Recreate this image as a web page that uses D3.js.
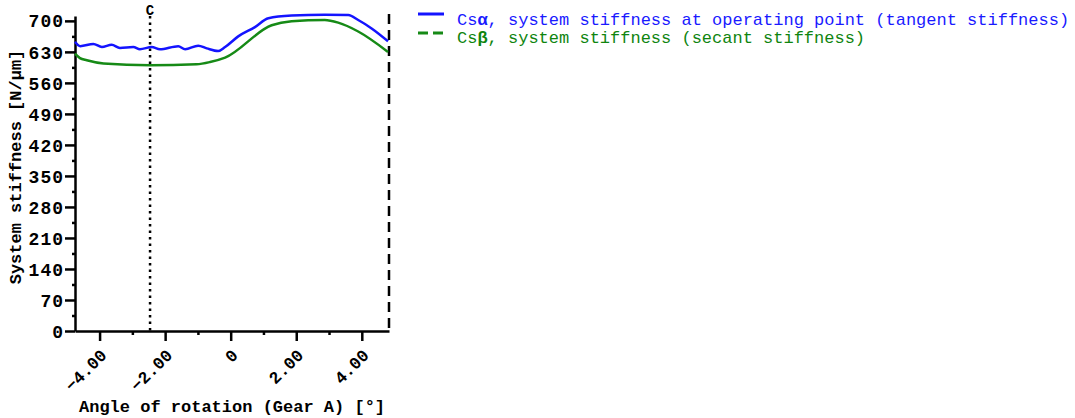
<html>
<head>
  <meta charset='utf-8' />
  <style>
    text { font-family: 'Liberation Mono', 'Courier New', monospace; }
  </style>
</head>
<body style='padding: 0; margin: 0; background: white;'>
  <svg width='1075' height='418'></svg>
</body>
<script src="https://d3js.org/d3.v7.min.js"></script>
<script>
///////////////////
/// Data
///////////////////

  xTicks = [-4, -2, 0, 2, 4];
  xMinorTicks = [-3, -1, 1, 3];
  yTicks = [0, 70, 140, 210, 280, 350, 420, 490, 560, 630, 700];
  yMinorTicks = [35, 105, 175, 245, 315, 385, 455, 525, 595, 665];

  angleA = [-4.75, -4.59, -4.19, -3.93, -3.63, -3.38, -2.97, -2.77, -2.41, -2.16, -1.60, -1.39, -0.99, -0.73, -0.38, -0.17, 0.23, 0.74, 1.15, 1.86, 2.87, 3.59, 3.89, 4.30, 4.80];
  csAlpha = [653, 643, 648, 641, 646, 639, 641, 636, 641, 636, 643, 636, 644, 638, 632, 641, 665, 686, 706, 712, 714, 713, 702, 683, 654];

  angleB = [-4.75, -4.6, -4.39, -3.88, -2.46, -1.04, -0.63, -0.17, 1.25, 1.86, 2.87, 3.28, 3.89, 4.80];
  csBeta = [626, 616, 611, 604, 600, 602, 607, 617, 690, 699, 702, 696, 676, 630];

  markC = -2.46;
  markEnd = 4.83;

///////////////////
/// Scales
///////////////////

  svg = d3.select('svg');

  scaleX = d3.scaleLinear()
    .domain([-4.75, 4.83])
    .range([75, 389]);

  scaleY = d3.scaleLinear()
    .domain([0, 711])
    .range([331, 16]);

///////////////////
/// Axes
///////////////////

  fmtX = d => d === 0 ? '0' : d3.format('.2f')(d);

  xAxis = svg.append('g')
    .attr('transform', 'translate(0, 331)')
    .call(d3.axisBottom(scaleX).tickValues(xTicks).tickSize(10).tickSizeOuter(0).tickFormat(fmtX));

  svg.append('g')
    .attr('transform', 'translate(0, 331)')
    .call(d3.axisBottom(scaleX).tickValues(xMinorTicks).tickSize(4).tickSizeOuter(0).tickFormat(''))
    .select('.domain').remove();

  yAxis = svg.append('g')
    .attr('transform', 'translate(75, 0)')
    .call(d3.axisLeft(scaleY).tickValues(yTicks).tickSize(10).tickSizeOuter(0));

  svg.append('g')
    .attr('transform', 'translate(75, 0)')
    .call(d3.axisLeft(scaleY).tickValues(yMinorTicks).tickSize(3).tickSizeOuter(0).tickFormat(''))
    .select('.domain').remove();

  svg.selectAll('.tick line, .domain')
    .attr('stroke', 'black')
    .attr('stroke-width', 2.5);

  svg.selectAll('.tick text')
    .attr('fill', 'black')
    .style('font-weight', 'bold')
    .style('font-family', "'Liberation Mono', monospace");

  xAxis.selectAll('text')
    .style('font-size', '17px')
    .attr('text-anchor', 'end')
    .attr('x', 0)
    .attr('y', 0)
    .attr('dy', '0.35em')
    .attr('transform', 'translate(3.5, 21) rotate(-45)');

  yAxis.selectAll('text')
    .style('font-size', '18px')
    .style('letter-spacing', '1px')
    .attr('x', -11)
    .attr('dy', '0.34em');

///////////////////
/// Markers
///////////////////

  svg.append('line')
    .attr('x1', scaleX(markC)).attr('x2', scaleX(markC))
    .attr('y1', 16).attr('y2', 331)
    .attr('stroke', 'black').attr('stroke-width', 2.5)
    .attr('stroke-dasharray', '2.5 4');

  svg.append('text')
    .attr('x', scaleX(markC)).attr('y', 15)
    .attr('text-anchor', 'middle')
    .style('font-size', '14px').style('font-weight', 'bold')
    .text('C');

  svg.append('line')
    .attr('x1', scaleX(markEnd)).attr('x2', scaleX(markEnd))
    .attr('y1', 14).attr('y2', 331)
    .attr('stroke', 'black').attr('stroke-width', 2.5)
    .attr('stroke-dasharray', '10 6');

///////////////////
/// Lines
///////////////////

  line = d3.line()
    .x(d => scaleX(d[0]))
    .y(d => scaleY(d[1]))
    .curve(d3.curveMonotoneX);

  svg.append('path')
    .datum(angleB.map((a, i) => [a, csBeta[i]]))
    .attr('fill', 'none')
    .attr('stroke', '#168a16')
    .attr('stroke-width', 2.5)
    .attr('d', line);

  svg.append('path')
    .datum(angleA.map((a, i) => [a, csAlpha[i]]))
    .attr('fill', 'none')
    .attr('stroke', '#1414ff')
    .attr('stroke-width', 2.5)
    .attr('d', line);

///////////////////
/// Legend
///////////////////

  svg.append('line')
    .attr('x1', 418).attr('x2', 444).attr('y1', 14).attr('y2', 14)
    .attr('stroke', '#1414ff').attr('stroke-width', 3);

  svg.append('line')
    .attr('x1', 418).attr('x2', 444).attr('y1', 33).attr('y2', 33)
    .attr('stroke', '#168a16').attr('stroke-width', 3)
    .attr('stroke-dasharray', '10 5');

  legA = svg.append('text')
    .attr('x', 457).attr('y', 25)
    .attr('fill', '#1a1aff')
    .style('font-size', '17px');
  legA.append('tspan').text('Cs');
  legA.append('tspan').style('font-weight', 'bold').text('α');
  legA.append('tspan').text(', system stiffness at operating point (tangent stiffness)');

  legB = svg.append('text')
    .attr('x', 457).attr('y', 43)
    .attr('fill', '#0f850f')
    .style('font-size', '17px');
  legB.append('tspan').text('Cs');
  legB.append('tspan').style('font-weight', 'bold').text('β');
  legB.append('tspan').text(', system stiffness (secant stiffness)');

///////////////////
/// Axis titles
///////////////////

  svg.append('text')
    .attr('x', 79).attr('y', 412)
    .style('font-size', '17px').style('font-weight', 'bold')
    .text('Angle of rotation (Gear A) [°]');

  svg.append('text')
    .attr('transform', 'translate(21, 167) rotate(-90)')
    .attr('text-anchor', 'middle')
    .style('font-size', '17px').style('font-weight', 'bold')
    .text('System stiffness [N/μm]');

</script>
</html>
